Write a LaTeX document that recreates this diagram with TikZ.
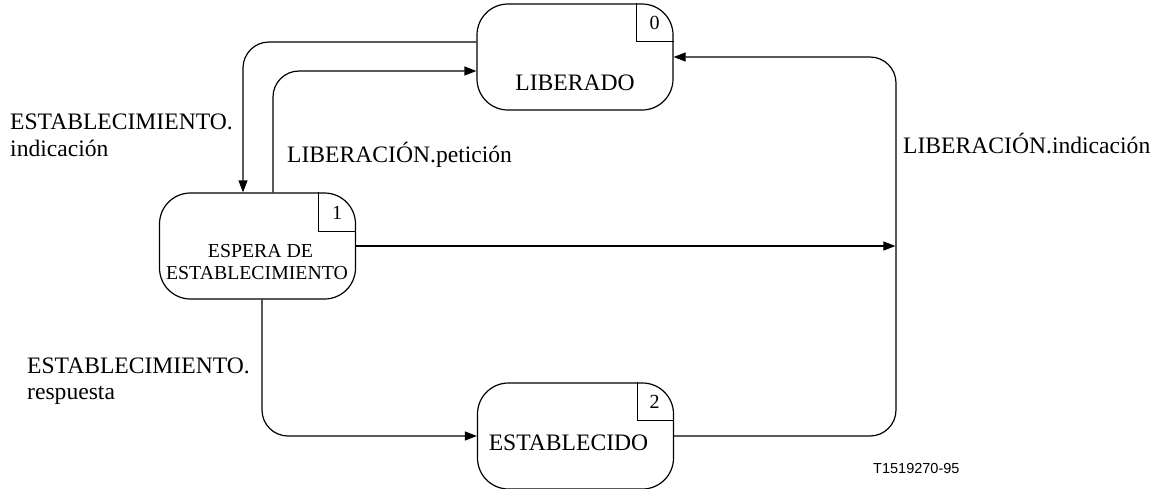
\documentclass[tikz,border=0pt]{standalone}
\usepackage{fontspec}
\setmainfont{Liberation Serif}
\setsansfont{Liberation Sans}
\usetikzlibrary{arrows.meta}
\begin{document}
\begin{tikzpicture}[x=1pt,y=-1pt,
 state/.style={draw, line width=1.2pt, rounded corners=31pt, minimum width=196pt, minimum height=106pt, inner sep=0pt},
 conn/.style={line width=1.2pt, rounded corners=26pt},
 arr/.style={conn, -{Triangle[length=12pt,width=9pt]}},
 big/.style={font=\fontsize{23.6}{27}\selectfont, inner sep=0pt},
 small/.style={font=\fontsize{19.8}{22}\selectfont, inner sep=0pt},
 num/.style={font=\fontsize{20}{22}\selectfont, inner sep=0pt},
 corner/.style={line width=1.1pt}]
\useasboundingbox (0,0) rectangle (1165,488);
% states
\node[state] (L) at (575,57) {};
\node[state] (E1) at (257.5,246) {};
\node[state] (E2) at (575.5,436) {};
% texts of states
\node[big, anchor=base] (tL) at (575,90) {LIBERADO};
\node[big, anchor=base] (tE2) at (568.5,450) {ESTABLECIDO};
\node[small, anchor=base] (tE1a) at (260.5,257) {ESPERA DE};
\node[small, anchor=base] (tE1b) at (257,279) {ESTABLECIMIENTO};
% corner squares
\draw[corner] ([xshift=-37pt]L.north east) |- ([yshift=-38pt]L.north east);
\draw[corner] ([xshift=-38pt]E1.north east) |- ([yshift=-39pt]E1.north east);
\draw[corner] ([xshift=-37pt]E2.north east) |- ([yshift=-38pt]E2.north east);
\node[num] (nL) at (654.5,23) {0};
\node[num] (nE1) at (337,212.5) {1};
\node[num] (nE2) at (654.5,402) {2};
% connectors
\coordinate (R) at (896,246);
\draw[arr] ([yshift=15pt]L.west) -| ([xshift=-14.5pt]E1.north);
\draw[arr] ([xshift=15.5pt]E1.north) |- ([yshift=-14pt]L.west);
\draw[arr] (E1.east) -- ([xshift=-0.6pt]R);
\draw[arr] (E2.east) -| (R |- L.east) -- (L.east);
\draw[arr] ([xshift=4.5pt]E1.south) |- (E2.west);
% labels
\node[big, anchor=base west] (a1) at (10,129) {ESTABLECIMIENTO.};
\node[big, anchor=base west] (a2) at (10,156) {indicación};
\node[big, anchor=base west] (b1) at (287,162) {LIBERACIÓN.petición};
\node[big, anchor=base west] (c1) at (903,153) {LIBERACIÓN.indicación};
\node[big, anchor=base west] (d1) at (27,373) {ESTABLECIMIENTO.};
\node[big, anchor=base west] (d2) at (27,399) {respuesta};
\node[font=\sffamily\fontsize{14.5}{16}\selectfont, inner sep=0pt, anchor=base west] (id) at (873,473) {T1519270-95};
\end{tikzpicture}
\end{document}
